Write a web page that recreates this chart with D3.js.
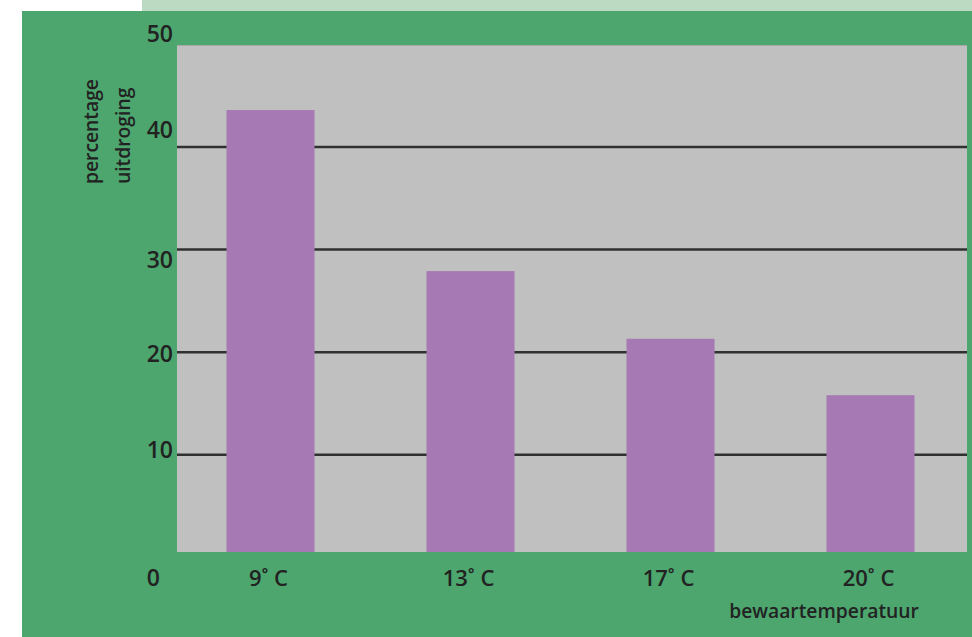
<!DOCTYPE html>
<html><head><meta charset="utf-8">
<script src="https://cdn.jsdelivr.net/npm/d3@7"></script>
<style>html,body{margin:0;padding:0;background:#fff;}svg{display:block;}</style>
</head><body>
<script>
// Data
const categories = ["9˚ C", "13˚ C", "17˚ C", "20˚ C"];
const values = [43.6, 27.9, 21.3, 15.8];
const yTicks = [0, 10, 20, 30, 40, 50];
const gridTicks = [10, 20, 30, 40];
const yTitle = ["percentage", "uitdroging"];
const xTitle = "bewaartemperatuur";

// Layout / style
const W = 972, H = 637;
const plot = {left: 177, right: 967, top: 45, bottom: 552};
const labelDy = {0: 20, 10: -5, 20: 2, 30: 10, 40: -17, 50: -11};
const font = "'Open Sans', sans-serif";
const green = "#4ca66e", lightGreen = "#bcd9c1", gray = "#c0c0c0", purple = "#a678b4", ink = "#222";

const svg = d3.select("body").append("svg").attr("width", W).attr("height", H);
svg.append("rect").attr("x", 142).attr("y", 0).attr("width", W - 142).attr("height", 11).attr("fill", lightGreen);
svg.append("rect").attr("x", 22).attr("y", 11).attr("width", W - 22).attr("height", H - 11).attr("fill", green);
svg.append("rect").attr("x", plot.left).attr("y", plot.top).attr("width", plot.right - plot.left)
  .attr("height", plot.bottom - plot.top).attr("fill", gray);
svg.append("line").attr("x1", plot.left).attr("x2", plot.right).attr("y1", plot.top + 0.5).attr("y2", plot.top + 0.5)
  .attr("stroke", "#a8a8a8").attr("stroke-width", 1);

const y = d3.scaleLinear().domain([10, 40]).range([454.7, 147]);
const x = d3.scaleBand().domain(categories).range([170.5, 970.5]).paddingInner(0.56).paddingOuter(0.28);

// gridlines
svg.append("g").selectAll("line").data(gridTicks).join("line")
  .attr("x1", plot.left).attr("x2", plot.right)
  .attr("y1", d => y(d)).attr("y2", d => y(d))
  .attr("stroke", "#303030").attr("stroke-width", 2.5);

// bars
svg.append("g").selectAll("rect").data(values).join("rect")
  .attr("x", (d, i) => x(categories[i]))
  .attr("width", x.bandwidth())
  .attr("y", d => y(d))
  .attr("height", d => plot.bottom - y(d))
  .attr("fill", purple);

// y tick labels
svg.append("g").selectAll("text").data(yTicks).join("text")
  .attr("x", d => d === 0 ? 160 : 173)
  .attr("y", d => y(d) + labelDy[d])
  .attr("dy", "0.36em")
  .attr("text-anchor", "end")
  .attr("font-family", font).attr("font-weight", 600).attr("font-size", 23).attr("fill", ink)
  .text(d => d);

// x labels
svg.append("g").selectAll("text").data(categories).join("text")
  .attr("x", d => x(d) + x.bandwidth() / 2 - 2)
  .attr("y", 578).attr("dy", "0.36em")
  .attr("text-anchor", "middle")
  .attr("font-family", font).attr("font-weight", 600).attr("font-size", 22).attr("fill", ink)
  .text(d => d);

// axis titles
svg.append("text").attr("x", 824).attr("y", 618)
  .attr("text-anchor", "middle")
  .attr("font-family", font).attr("font-weight", 600).attr("font-size", 19.3).attr("fill", ink)
  .text(xTitle);

svg.append("g").selectAll("text").data(yTitle).join("text")
  .attr("transform", (d, i) => `translate(${98 + i * 32},184) rotate(-90)`)
  .attr("text-anchor", "start")
  .attr("font-family", font).attr("font-weight", 600).attr("font-size", 19.3).attr("fill", ink)
  .text(d => d);
</script>
</body></html>
